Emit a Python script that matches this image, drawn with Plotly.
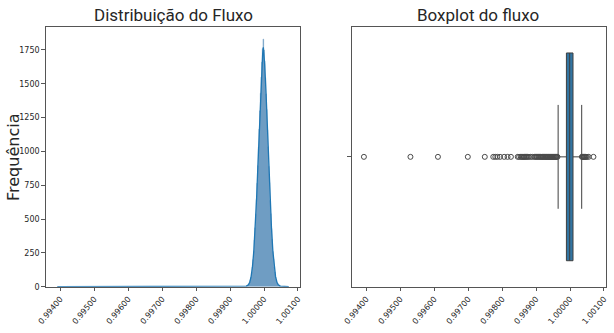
import plotly.graph_objects as go

# ---- data ----
# histogram: first bin centre, bin width and counts
hist_start = 0.99948
hist_width = 0.00002
hist_counts = [4, 6, 9, 14, 22, 33, 50, 74, 106, 148, 200, 265, 345, 435, 535, 645,
               765, 895, 1030, 1165, 1300, 1430, 1550, 1660, 1760, 1830, 1750, 1670,
               1545, 1425, 1310, 1160, 1035, 890, 770, 640, 540, 430, 350, 260, 205,
               145, 108, 72, 52, 32, 23, 13, 10, 6, 4]

# KDE curve
kde_x = [0.99391, 0.99600, 0.99800, 0.99900, 0.99930, 0.99938, 0.99948, 0.99954,
         0.99958, 0.99962, 0.99966, 0.99970, 0.99974, 0.99978, 0.99982, 0.99986,
         0.99990, 0.99994, 0.99996, 0.99998, 1.00000, 1.00002, 1.00006, 1.00010,
         1.00014, 1.00018, 1.00022, 1.00026, 1.00030, 1.00034, 1.00038, 1.00042,
         1.00048, 1.00058, 1.00065, 1.00073]
kde_y = [1, 1, 2, 2, 3, 3, 4, 14, 33, 74, 148, 265, 435, 645, 895, 1165,
         1430, 1640, 1720, 1770, 1720, 1640, 1430, 1165,
         895, 645, 435, 265, 148, 74, 33, 14,
         4, 2, 1, 1]

# boxplot statistics
box_q1 = 0.999894
box_median = 0.99999
box_q3 = 1.000088
box_low = 0.99965
box_high = 1.000344
outliers = [0.99393, 0.99530, 0.99611, 0.99699, 0.99749, 0.99774, 0.99780, 0.99786,
            0.99794, 0.99806, 0.99816, 0.99826, 0.99846, 0.99850, 0.99855, 0.99858,
            0.99861, 0.99864, 0.99866, 0.99869, 0.99872, 0.99875, 0.99879, 0.99884,
            0.99889, 0.99895, 0.99898, 0.99901, 0.99904, 0.99907, 0.99910, 0.99913,
            0.99915, 0.99918, 0.99920, 0.99922, 0.99925, 0.99927, 0.99929, 0.99931,
            0.99933, 0.99935, 0.99937, 0.99939, 0.99941, 0.99943, 0.99945, 0.99947,
            0.99949, 0.99951, 0.99953, 0.99955, 0.99957, 0.99959, 0.99961, 0.99963,
            1.00035, 1.00037, 1.00039, 1.00041, 1.00043, 1.00045, 1.00047, 1.00050,
            1.00055, 1.00069]

x_ticks = [0.994, 0.995, 0.996, 0.997, 0.998, 0.999, 1.000, 1.001]
x_tick_labels = ["0.99400", "0.99500", "0.99600", "0.99700", "0.99800", "0.99900",
                 "1.00000", "1.00100"]
y_ticks = [0, 250, 500, 750, 1000, 1250, 1500, 1750]

titles = ["Distribuição do Fluxo", "Boxplot do fluxo"]
y_title = "Frequência"

# ---- figure ----
W, H = 614, 333
hist_x = [hist_start + i * hist_width for i in range(len(hist_counts))]

fig = go.Figure()
fig.add_trace(go.Scatter(x=hist_x, y=hist_counts, mode="lines", line_shape="hvh",
                         fill="tozeroy", fillcolor="#6f9dc3",
                         line=dict(color="#6f9dc3", width=0.5),
                         xaxis="x", yaxis="y", showlegend=False))
fig.add_trace(go.Scatter(x=kde_x, y=kde_y, mode="lines", line=dict(color="#1f77b4", width=1.3),
                         xaxis="x", yaxis="y", showlegend=False))

fig.add_trace(go.Box(y=[0], q1=[box_q1], median=[box_median], q3=[box_q3],
                     lowerfence=[box_low], upperfence=[box_high], orientation="h",
                     width=0.8, whiskerwidth=0.5, fillcolor="#3274a1",
                     line=dict(color="#3f3f3f", width=1), boxpoints=False,
                     xaxis="x2", yaxis="y2", showlegend=False))
fig.add_trace(go.Scatter(x=outliers, y=[0] * len(outliers), mode="markers",
                         marker=dict(symbol="circle-open", size=5, color="#4a4a4a",
                                     line=dict(width=1)),
                         xaxis="x2", yaxis="y2", showlegend=False))

xr = [0.99357, 1.00106]
ax_common = dict(showline=True, linecolor="#555555", linewidth=1, mirror=True,
                 ticks="outside", ticklen=3.5, tickcolor="#555555", showgrid=False,
                 zeroline=False, automargin=False,
                 tickfont=dict(family="DejaVu Sans", size=8, color="#262626"))

title_font = dict(family="Roboto", size=17, color="#262626")
fig.update_layout(
    width=W, height=H, margin=dict(l=0, r=0, t=0, b=0, autoexpand=False),
    paper_bgcolor="white", plot_bgcolor="white",
    xaxis=dict(domain=[45.7 / W, 300 / W], range=xr, tickvals=x_ticks, ticktext=x_tick_labels,
               tickangle=-50, anchor="y", **ax_common),
    yaxis=dict(domain=[1 - 286.7 / H, 1 - 27 / H], range=[0, 1920], tickvals=y_ticks,
               anchor="x", **ax_common),
    xaxis2=dict(domain=[351.7 / W, 606 / W], range=xr, tickvals=x_ticks, ticktext=x_tick_labels,
                tickangle=-50, anchor="y2", **ax_common),
    yaxis2=dict(domain=[1 - 286.7 / H, 1 - 27 / H], range=[-0.5, 0.5], tickvals=[0],
                ticktext=[""], anchor="x2", **ax_common),
    annotations=[
        dict(text=titles[0], x=173 / W, y=1 - 15 / H, xref="paper", yref="paper",
             showarrow=False, xanchor="center", yanchor="middle", font=title_font),
        dict(text=titles[1], x=478 / W, y=1 - 15 / H, xref="paper", yref="paper",
             showarrow=False, xanchor="center", yanchor="middle", font=title_font),
        dict(text=y_title, x=13 / W, y=1 - 158 / H, xref="paper", yref="paper",
             showarrow=False, xanchor="center", yanchor="middle", textangle=-90,
             font=dict(family="DejaVu Sans", size=16, color="#262626")),
    ],
)

fig.write_html("out.html", config={"displayModeBar": False},
               post_script="document.body.style.margin='0';document.body.style.padding='0';")
